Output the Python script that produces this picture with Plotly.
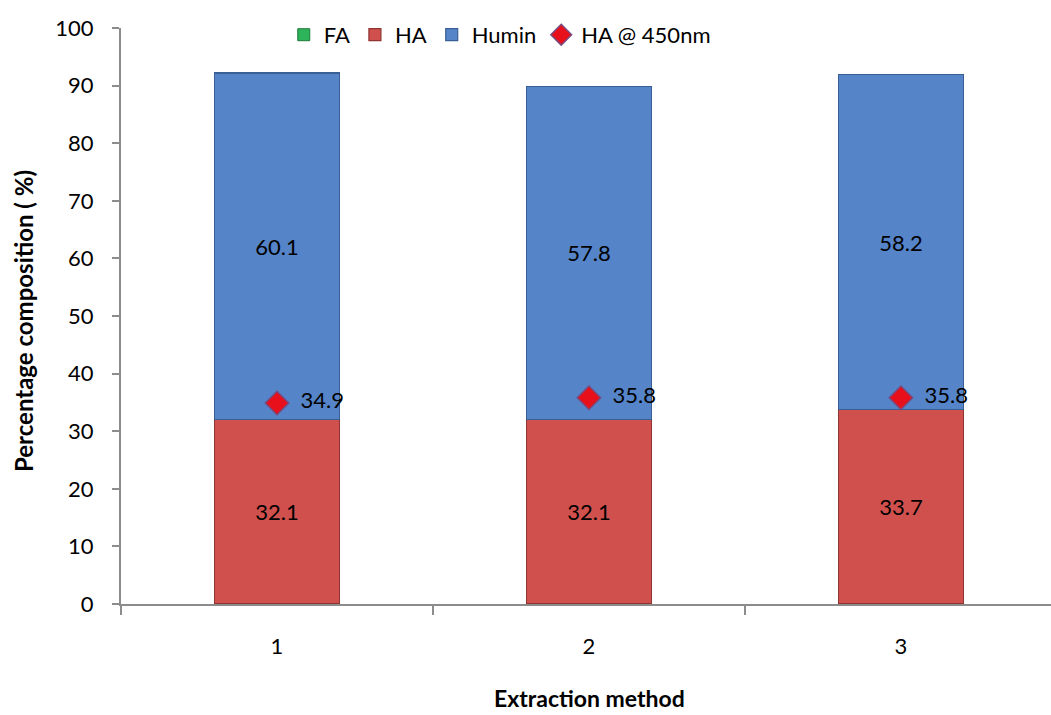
import plotly.graph_objects as go

# Extraction methods and composition (%)
methods = ["1", "2", "3"]
fa = [0.0, 0.0, 0.0]
ha = [32.1, 32.1, 33.7]
humin = [60.1, 57.8, 58.2]
ha_450 = [34.9, 35.8, 35.8]

xpos = list(range(len(methods)))
font_family = "Lato, 'Open Sans', sans-serif"
label_size = 22

W, H = 1051, 715
ML, MR, MT, MB = 121, 0, 28, 111
plot_w, plot_h = W - ML - MR, H - MT - MB

fig = go.Figure()

fig.add_trace(go.Bar(
    x=xpos, y=fa, name="FA", width=0.4,
    marker=dict(color="#2DB35A", line=dict(color="#1E7A3C", width=1)),
))
fig.add_trace(go.Bar(
    x=xpos, y=ha, name="HA", width=0.4,
    marker=dict(color="#D0504D", line=dict(color="#8E3532", width=1.2)),
    text=[f"{v:.1f}" for v in ha], textposition="inside",
    insidetextanchor="middle", textfont=dict(size=label_size, color="black"),
))
fig.add_trace(go.Bar(
    x=xpos, y=humin, name="Humin", width=0.4,
    marker=dict(color="#5584C8", line=dict(color="#3A5F94", width=1.2)),
    text=[f"{v:.1f}" for v in humin], textposition="inside",
    insidetextanchor="middle", textfont=dict(size=label_size, color="black"),
))
fig.add_trace(go.Scatter(
    x=xpos, y=ha_450, name="HA @ 450nm", mode="markers+text",
    marker=dict(symbol="diamond", size=18, color="#E8101A",
                line=dict(color="#7A4A7E", width=1.5)),
    text=["  " + f"{v:.1f}" for v in ha_450], textposition="middle right",
    textfont=dict(size=label_size, color="black"),
))

# Axis titles placed in paper space
fig.add_annotation(text="<b>Extraction method</b>", xref="paper", yref="paper",
                   x=(589 - ML) / plot_w, y=-(698 - (H - MB)) / plot_h,
                   showarrow=False, font=dict(size=23), xanchor="center", yanchor="middle")
fig.add_annotation(text="<b>Percentage composition ( %)</b>", xref="paper", yref="paper",
                   x=-(ML - 23) / plot_w, y=(H - MB - 321) / plot_h, textangle=-90,
                   showarrow=False, font=dict(size=24), xanchor="center", yanchor="middle")

fig.update_layout(
    barmode="stack",
    width=W, height=H,
    margin=dict(l=ML, r=MR, t=MT, b=MB),
    paper_bgcolor="white", plot_bgcolor="white",
    font=dict(family=font_family, size=label_size, color="black"),
    showlegend=True,
    legend=dict(orientation="h", x=0.175, y=0.988, xanchor="left", yanchor="middle",
                font=dict(size=label_size), itemwidth=30, traceorder="normal",
                bgcolor="rgba(0,0,0,0)"),
    xaxis=dict(
        range=[-0.5, 2.481], tickvals=xpos, ticktext=methods, automargin=False,
        showline=True, linecolor="#8C8C8C", linewidth=2,
        ticks="", showgrid=False, zeroline=False,
        tickfont=dict(size=label_size), ticklabelstandoff=22,
        minor=dict(tickvals=[-0.5, 0.5, 1.5, 2.5], ticks="outside",
                   ticklen=9, tickcolor="#8C8C8C", tickwidth=2),
    ),
    yaxis=dict(
        range=[0, 100], dtick=10, showline=True, linecolor="#8C8C8C", linewidth=2,
        automargin=False,
        ticks="outside", ticklen=7, tickcolor="#8C8C8C", tickwidth=2,
        showgrid=False, zeroline=False, tickfont=dict(size=label_size),
        ticklabelstandoff=14,
    ),
)

fig.write_html("out.html")
